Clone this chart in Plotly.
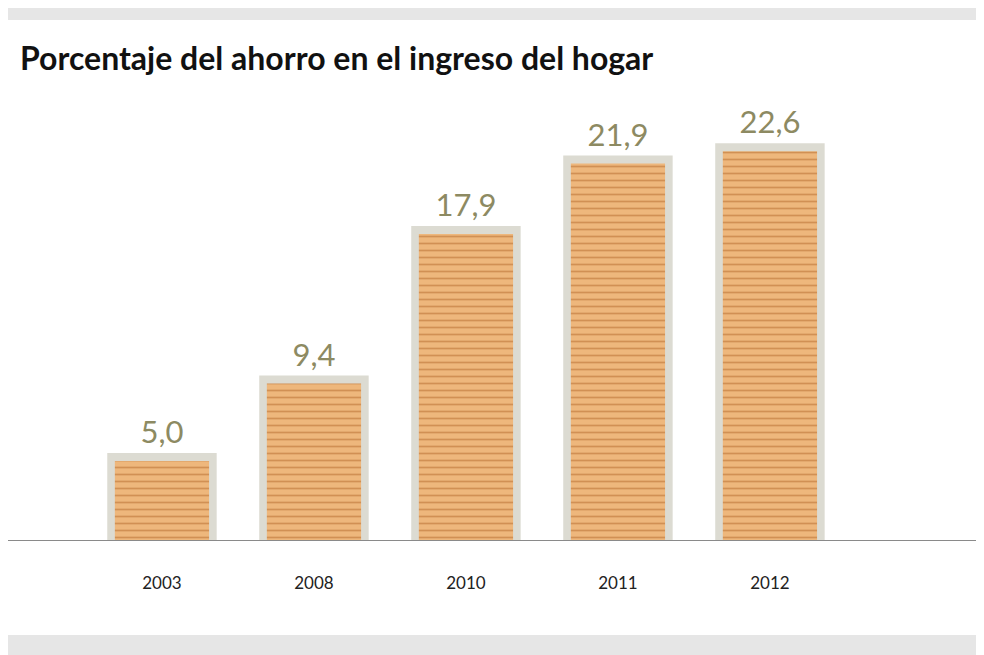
import plotly.graph_objects as go

years = ["2003", "2008", "2010", "2011", "2012"]
values = [5.0, 9.4, 17.9, 21.9, 22.6]
labels = ["5,0", "9,4", "17,9", "21,9", "22,6"]
xpos = list(range(len(years)))

H = 441  # plot height px
fig = go.Figure()
fig.add_trace(go.Bar(x=xpos, y=values, width=0.72, marker=dict(color="#dcdbd2", line=dict(width=0)),
                     text=labels, textposition="outside", cliponaxis=False,
                     textfont=dict(family="Lato", size=31, color="#8d8a62"), hoverinfo="skip"))
fig.add_trace(go.Bar(x=xpos, y=[v - 0.45 for v in values], width=0.62,
                     marker=dict(color="#e0a060", line=dict(width=0),
                                 pattern=dict(shape="-", fgcolor="#b46a2c", bgcolor="#eeb77c", size=7, solidity=0.25)),
                     hoverinfo="skip"))
fig.update_layout(
    width=984, height=655, barmode="overlay", showlegend=False,
    plot_bgcolor="white", paper_bgcolor="white",
    margin=dict(l=0, r=0, t=92, b=122),
    xaxis=dict(range=[-1.013, 5.461], tickvals=xpos, ticktext=years, showgrid=False, zeroline=False,
               showline=False, ticks="", tickfont=dict(family="Lato", size=17, color="#222")),
    yaxis=dict(range=[0, 25.06], visible=False),
    font=dict(family="Lato"),
    shapes=[
        dict(type="rect", xref="paper", yref="paper", x0=0, x1=1, y0=1 + 80 / H, y1=1 + 92 / H, fillcolor="#e6e6e6", line_width=0),
        dict(type="rect", xref="paper", yref="paper", x0=0, x1=1, y0=-114 / H, y1=-94 / H, fillcolor="#e6e6e6", line_width=0),
        dict(type="line", xref="paper", yref="y", x0=0, x1=1, y0=0, y1=0, line=dict(color="#8a8a8a", width=2)),
    ],
    annotations=[dict(text="<b>Porcentaje del ahorro en el ingreso del hogar</b>", xref="paper", yref="paper",
                      x=0.01, y=1 + 42 / H, xanchor="left", yanchor="middle", showarrow=False,
                      font=dict(family="Lato", size=32, color="#111"))],
)
fig.update_xaxes(ticklabelstandoff=30)
fig.write_html("out.html")
